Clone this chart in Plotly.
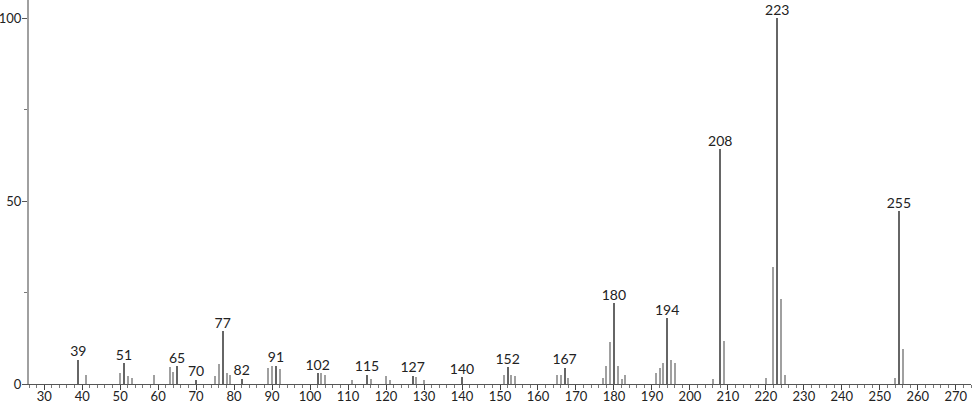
import plotly.graph_objects as go

# m/z values and relative intensities
mz = [39, 41, 50, 51, 52, 53, 59, 63, 64, 65, 70, 75, 76, 77, 78, 79, 82,
      89, 90, 91, 92, 102, 103, 104, 111, 115, 116, 120, 121, 127, 128, 130,
      140, 151, 152, 153, 154, 165, 166, 167, 168, 177, 178, 179, 180, 181,
      182, 183, 191, 192, 193, 194, 195, 196, 206, 208, 209, 220, 222, 223,
      224, 225, 254, 255, 256]
intensity = [6.6, 2.5, 3.0, 5.7, 2.3, 1.6, 2.5, 4.6, 3.3, 4.8, 1.2, 2.3, 5.5, 14.4, 3.0, 2.5, 1.4,
             4.5, 4.8, 5.0, 4.1, 3.0, 3.0, 2.4, 1.2, 2.5, 1.4, 2.3, 1.2, 2.3, 1.8, 1.2,
             1.8, 2.5, 4.6, 2.4, 2.2, 2.5, 2.5, 4.5, 1.6, 1.6, 5.0, 11.5, 22.1, 5.0,
             1.3, 2.4, 3.0, 4.5, 5.7, 18.0, 6.6, 5.7, 1.4, 64.2, 11.8, 1.6, 32.1, 100.0,
             23.3, 2.4, 1.6, 47.3, 9.6]
labeled = [39, 51, 65, 70, 77, 82, 91, 102, 115, 127, 140, 152, 167, 180, 194, 208, 223, 255]

x_ticks = list(range(30, 271, 10))
y_ticks = [0, 50, 100]

lab_x = [m for m in mz if m in labeled]
lab_y = [intensity[mz.index(m)] for m in lab_x]
oth_x = [m for m in mz if m not in labeled]
oth_y = [intensity[mz.index(m)] for m in oth_x]

FONT = "Lato, DejaVu Sans, sans-serif"

fig = go.Figure()
fig.add_trace(go.Bar(x=oth_x, y=oth_y, width=0.26,
                     marker=dict(color="#a0a0a0", line=dict(width=0)),
                     hoverinfo="x+y"))
fig.add_trace(go.Bar(x=lab_x, y=lab_y, width=0.26,
                     marker=dict(color="#666666", line=dict(width=0)),
                     hoverinfo="x+y"))
fig.add_trace(go.Scatter(x=lab_x, y=lab_y, mode="text",
                         text=[str(v) for v in lab_x],
                         textposition="top center",
                         textfont=dict(family=FONT, size=14, color="#222222"),
                         hoverinfo="skip", cliponaxis=False))

fig.update_layout(
    width=974, height=406,
    margin=dict(l=29, r=3, t=0, b=22, autoexpand=False),
    paper_bgcolor="white", plot_bgcolor="white",
    showlegend=False, barmode="overlay", bargap=0,
    font=dict(family=FONT, size=13, color="#222222"),
)
fig.update_xaxes(
    range=[26, 274], tickvals=x_ticks, ticktext=[str(v) for v in x_ticks],
    ticks="outside", ticklen=5, tickcolor="#444444", tickwidth=1,
    minor=dict(dtick=2, tick0=0, ticks="outside", ticklen=3, tickcolor="#777777", tickwidth=1),
    showline=True, linecolor="#555555", linewidth=1,
    showgrid=False, zeroline=False, tickfont=dict(size=13),
    automargin=False, ticklabelstandoff=-5,
)
fig.update_yaxes(
    range=[0, 105], tickvals=y_ticks, ticktext=[str(v) for v in y_ticks],
    ticks="outside", ticklen=5, tickcolor="#555555", tickwidth=1,
    minor=dict(dtick=25, tick0=0, ticks="outside", ticklen=3, tickcolor="#777777", tickwidth=1),
    showline=True, linecolor="#a0a0a0", linewidth=2,
    showgrid=False, zeroline=False, tickfont=dict(size=13),
    automargin=False, ticklabelstandoff=-2,
)

fig.write_html(
    "out.html",
    config={"displayModeBar": False},
    post_script="document.body.style.margin='0';document.body.style.overflow='hidden';",
)
